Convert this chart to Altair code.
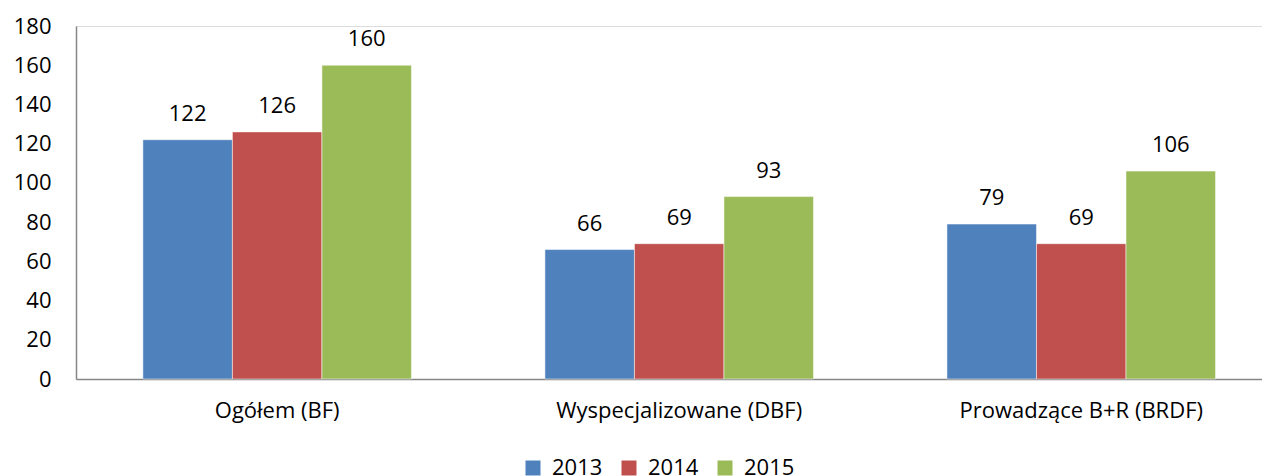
import altair as alt
import pandas as pd

categories = ["Ogółem (BF)", "Wyspecjalizowane (DBF)", "Prowadzące B+R (BRDF)"]
years = ["2013", "2014", "2015"]
values_2013 = [122, 66, 79]
values_2014 = [126, 69, 69]
values_2015 = [160, 93, 106]
colors = ["#4F81BD", "#C0504D", "#9BBB59"]

rows = []
for series_year, vals in zip(years, [values_2013, values_2014, values_2015]):
    for c, v in zip(categories, vals):
        rows.append({"cat": c, "year": series_year, "value": v})
df = pd.DataFrame(rows)

FONT = "Open Sans"
FS = 22
AXIS_COLOR = "#868686"

x = alt.X("cat:N", sort=categories, title=None,
          scale=alt.Scale(paddingInner=0.332, paddingOuter=0.141, align=0.59),
          axis=alt.Axis(labelAngle=0, labelFont=FONT, labelFontSize=FS, labelColor="#000000",
                        labelPadding=21, labelLimit=0, ticks=False, tickSize=0,
                        domainColor=AXIS_COLOR, domainWidth=1.5, grid=False))
xoff = alt.XOffset("year:N", sort=years, scale=alt.Scale(paddingInner=0, paddingOuter=0))
y = alt.Y("value:Q", title=None,
          scale=alt.Scale(domain=[0, 180], nice=False),
          axis=alt.Axis(values=list(range(0, 181, 20)), labelFont=FONT, labelFontSize=FS,
                        labelColor="#000000", labelPadding=25, ticks=False, tickSize=0,
                        domainColor=AXIS_COLOR, domainWidth=1.5, grid=False))
color = alt.Color("year:N", sort=years, title=None,
                  scale=alt.Scale(domain=years, range=colors),
                  legend=alt.Legend(orient="none", legendX=446, legendY=431, direction="horizontal",
                                    symbolType="square", symbolSize=225, symbolStrokeWidth=0,
                                    labelFont=FONT, labelFontSize=FS, labelColor="#000000",
                                    labelOffset=8, columnPadding=15, padding=0))

base = alt.Chart(df).encode(x=x, xOffset=xoff, y=y)
bars = base.mark_bar(stroke="#ffffff", strokeWidth=0.5).encode(color=color)
labels = base.mark_text(baseline="bottom", dy=-14, font=FONT, fontSize=FS, color="#000000").encode(
    text=alt.Text("value:Q"))

chart = (bars + labels).properties(
    width=1186, height=353,
    padding={"top": 7, "left": 5, "right": 0, "bottom": 0},
).configure_view(stroke=None).configure(background="#ffffff")

chart.save("out.html", embed_options={"renderer": "svg", "actions": False})
